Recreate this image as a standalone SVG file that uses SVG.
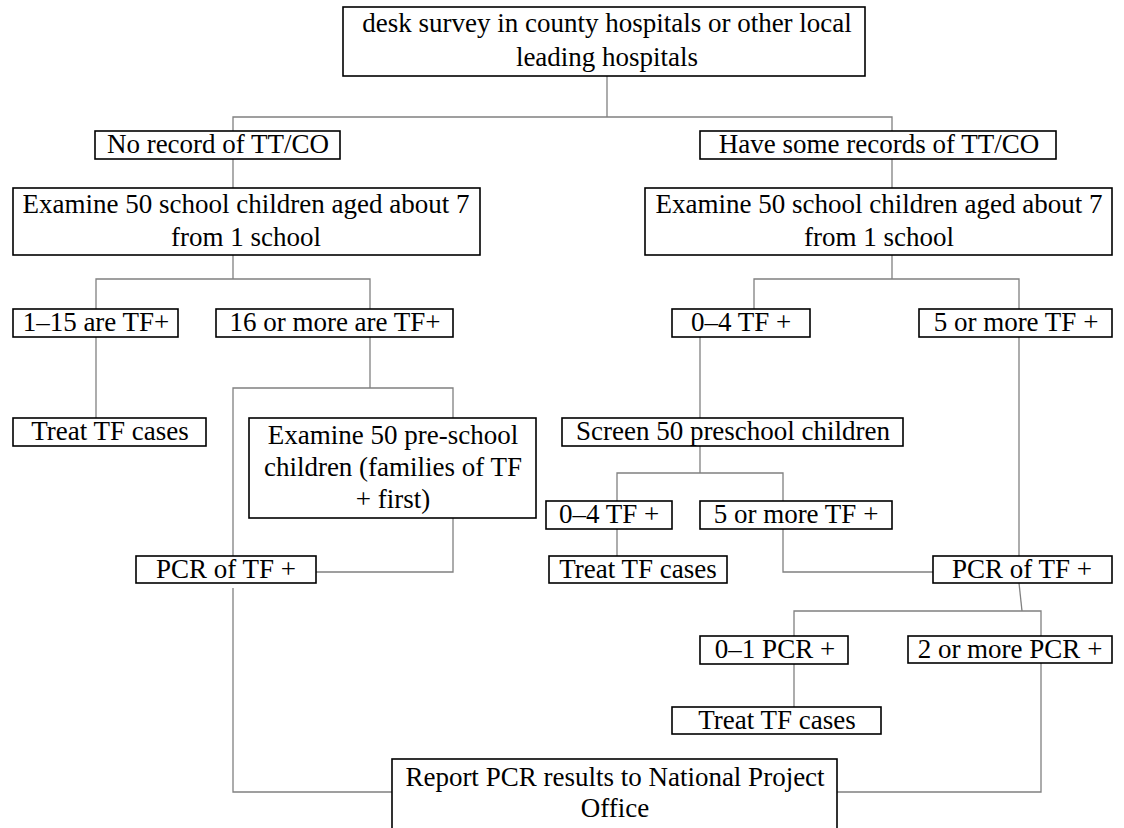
<svg xmlns="http://www.w3.org/2000/svg" width="1124" height="828" viewBox="0 0 1124 828">
<style>
.box{fill:#fff;stroke:#000;stroke-width:1.6}
.t{font-family:"Liberation Serif","Times New Roman",serif;font-size:27px;fill:#000;text-anchor:middle}
.c{fill:none;stroke:#808080;stroke-width:1.3}
</style>
<rect width="1124" height="828" fill="#fff"/>
<g id="connectors">
<path class="c" d="M607 76V117"/>
<path class="c" d="M233 131V117H892V131"/>
<path class="c" d="M233 159V188"/>
<path class="c" d="M892 159V188"/>
<path class="c" d="M233 255V279"/>
<path class="c" d="M96 309V279H370V309"/>
<path class="c" d="M892 255V279"/>
<path class="c" d="M754 309V279H1019V309"/>
<path class="c" d="M96 337V418"/>
<path class="c" d="M370 337V388"/>
<path class="c" d="M233 556V388H453V418"/>
<path class="c" d="M453 518V572H316"/>
<path class="c" d="M233 588V792H392"/>
<path class="c" d="M700 337V418"/>
<path class="c" d="M700 446V473"/>
<path class="c" d="M617 501V473H783V501"/>
<path class="c" d="M617 529V556"/>
<path class="c" d="M783 529V572H933"/>
<path class="c" d="M1019 337V556"/>
<path class="c" d="M1019 583L1022 611"/>
<path class="c" d="M794 636V611H1041V636"/>
<path class="c" d="M794 664V707"/>
<path class="c" d="M1041 663V792H837"/>
</g>
<g id="n_desk"><rect class="box" x="343" y="7" width="522" height="69"/><text class="t" x="607" y="32">desk survey in county hospitals or other local</text><text class="t" x="607" y="66">leading hospitals</text></g>
<g id="n_norecord"><rect class="box" x="95" y="131" width="245" height="28"/><text class="t" x="218" y="153">No record of TT/CO</text></g>
<g id="n_havesome"><rect class="box" x="700" y="131" width="356" height="28"/><text class="t" x="879" y="153">Have some records of TT/CO</text></g>
<g id="n_examL"><rect class="box" x="13" y="188" width="467" height="67"/><text class="t" x="246" y="213">Examine 50 school children aged about 7</text><text class="t" x="246" y="246">from 1 school</text></g>
<g id="n_examR"><rect class="box" x="645" y="188" width="467" height="67"/><text class="t" x="879" y="213">Examine 50 school children aged about 7</text><text class="t" x="879" y="246">from 1 school</text></g>
<g id="n_tf115"><rect class="box" x="13" y="309" width="165" height="28"/><text class="t" x="96" y="331">1–15 are TF+</text></g>
<g id="n_tf16"><rect class="box" x="216" y="309" width="237" height="28"/><text class="t" x="335" y="331">16 or more are TF+</text></g>
<g id="n_treatL"><rect class="box" x="13" y="418" width="193" height="28"/><text class="t" x="110" y="440">Treat TF cases</text></g>
<g id="n_preschool"><rect class="box" x="249" y="418" width="287" height="100"/><text class="t" x="393" y="444">Examine 50 pre-school</text><text class="t" x="393" y="476">children (families of TF</text><text class="t" x="393" y="508">+ first)</text></g>
<g id="n_pcrL"><rect class="box" x="136" y="556" width="180" height="27"/><text class="t" x="226" y="578">PCR of TF +</text></g>
<g id="n_tf04"><rect class="box" x="672" y="309" width="138" height="28"/><text class="t" x="741" y="331">0–4 TF +</text></g>
<g id="n_tf5"><rect class="box" x="919" y="309" width="193" height="28"/><text class="t" x="1016" y="331">5 or more TF +</text></g>
<g id="n_screen"><rect class="box" x="562" y="418" width="341" height="28"/><text class="t" x="733" y="440">Screen 50 preschool children</text></g>
<g id="n_tf04b"><rect class="box" x="546" y="501" width="126" height="28"/><text class="t" x="609" y="523">0–4 TF +</text></g>
<g id="n_tf5b"><rect class="box" x="700" y="501" width="192" height="28"/><text class="t" x="796" y="523">5 or more TF +</text></g>
<g id="n_treatM"><rect class="box" x="549" y="556" width="178" height="27"/><text class="t" x="638" y="578">Treat TF cases</text></g>
<g id="n_pcrR"><rect class="box" x="933" y="556" width="179" height="27"/><text class="t" x="1022" y="578">PCR of TF +</text></g>
<g id="n_pcr01"><rect class="box" x="700" y="636" width="148" height="28"/><text class="t" x="775" y="658">0–1 PCR +</text></g>
<g id="n_pcr2"><rect class="box" x="908" y="636" width="204" height="27"/><text class="t" x="1010" y="658">2 or more PCR +</text></g>
<g id="n_treatR"><rect class="box" x="672" y="707" width="209" height="27"/><text class="t" x="777" y="729">Treat TF cases</text></g>
<g id="n_report"><rect class="box" x="392" y="759" width="445" height="85"/><text class="t" x="615" y="786">Report PCR results to National Project</text><text class="t" x="615" y="817">Office</text></g>
</svg>
